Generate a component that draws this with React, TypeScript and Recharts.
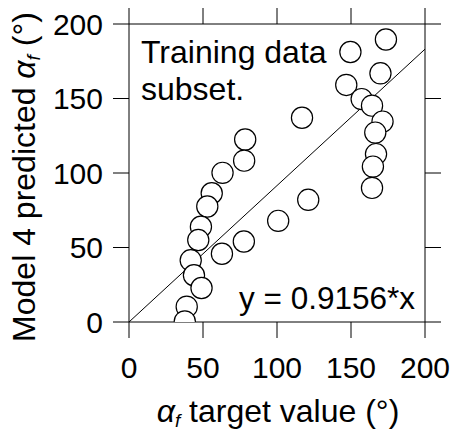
import { ScatterChart, Scatter, XAxis, YAxis } from 'recharts';

// values
const targetValues = [
  173.6, 149.6, 169.9, 146.8, 157.2, 164.2, 116.9, 171.3, 166.4, 78.5,
  166.9, 77.8, 164.8, 63.2, 164.2, 55.9, 121.1, 52.9, 100.8, 48.6,
  46.8, 77.6, 62.8, 41.7, 43.9, 49.0, 39.0, 37.7,
];
const predictedValues = [
  189.6, 181.2, 166.9, 159.1, 149.6, 145.2, 137.1, 134.5, 127.1, 122.5,
  112.7, 108.3, 104.3, 100.1, 90.0, 86.4, 82.0, 77.5, 67.9, 63.9,
  55.0, 54.0, 45.8, 41.4, 31.4, 22.8, 10.3, 0.4,
];
// fit line y = 0.9156*x, end points
const fitX = [0, 200];
const fitY = [0, 183.12];
const axisTicks = [0, 50, 100, 150, 200];

const points = targetValues.map((x, i) => ({ x, y: predictedValues[i] }));
const fitLine = fitX.map((x, i) => ({ x, y: fitY[i] }));

const FONT = '"Liberation Sans", Arial, sans-serif';
const tickStyle = { fill: '#000', fontSize: 30, fontFamily: FONT };

const OpenCircle = (props: any) => (
  <circle cx={props.cx} cy={props.cy} r={10.6} fill="#fff" stroke="#000" strokeWidth={1.2} />
);

export default function App() {
  return (
    <div style={{ position: 'absolute', left: 0, top: 0 }}>
      <ScatterChart width={457} height={434} margin={{ top: 0, right: 0, bottom: 0, left: 0 }}>
        <XAxis
          type="number"
          dataKey="x"
          domain={[0, 200]}
          ticks={axisTicks}
          interval={0}
          allowDataOverflow
          height={112}
          tickSize={16}
          tickMargin={19}
          stroke="#000"
          tick={tickStyle}
        />
        <XAxis
          xAxisId="top"
          orientation="top"
          type="number"
          dataKey="x"
          domain={[0, 200]}
          ticks={axisTicks}
          interval={0}
          allowDataOverflow
          height={24}
          tickSize={16}
          stroke="#000"
          tickFormatter={() => ''}
        />
        <YAxis
          type="number"
          dataKey="y"
          domain={[0, 200]}
          ticks={axisTicks}
          interval={0}
          allowDataOverflow
          width={129}
          tickSize={16}
          tickMargin={10}
          stroke="#000"
          tick={tickStyle}
        />
        <YAxis
          yAxisId="right"
          orientation="right"
          type="number"
          dataKey="y"
          domain={[0, 200]}
          ticks={axisTicks}
          interval={0}
          allowDataOverflow
          width={32}
          tickSize={16}
          stroke="#000"
          tickFormatter={() => ''}
        />
        <Scatter
          data={fitLine}
          xAxisId="top"
          yAxisId="right"
          line={{ stroke: '#000', strokeWidth: 1 }}
          shape={() => <g />}
          isAnimationActive={false}
        />
        <Scatter data={points} shape={OpenCircle} isAnimationActive={false} />

        <text x={141} y={63} fontSize={32} fontFamily={FONT} fill="#000">Training data</text>
        <text x={141} y={100} fontSize={32} fontFamily={FONT} fill="#000">subset.</text>
        <text x={415} y={309} fontSize={31.5} fontFamily={FONT} fill="#000" textAnchor="end">y = 0.9156*x</text>

        <text x={278} y={422} fontSize={32} fontFamily={FONT} fill="#000" textAnchor="middle">
          <tspan fontStyle="italic">α</tspan>
          <tspan fontStyle="italic" fontSize={19} dy={5}>f</tspan>
          <tspan dy={-5}> target value (°)</tspan>
        </text>
        <text
          x={0}
          y={0}
          transform="translate(35, 177) rotate(-90)"
          fontSize={32}
          fontFamily={FONT}
          fill="#000"
          textAnchor="middle"
        >
          Model 4 predicted <tspan fontStyle="italic">α</tspan>
          <tspan fontStyle="italic" fontSize={19} dy={5}>f</tspan>
          <tspan dy={-5}> (°)</tspan>
        </text>
      </ScatterChart>
    </div>
  );
}
